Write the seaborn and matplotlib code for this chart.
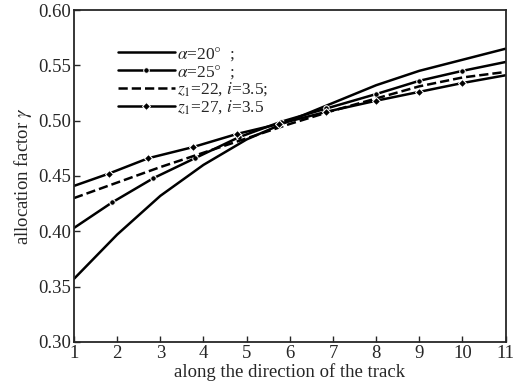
import matplotlib
matplotlib.use("Agg")
import matplotlib.pyplot as plt
import seaborn as sns
import pandas as pd

sns.set_style("ticks")
plt.rcParams['font.family'] = ['Liberation Serif', 'DejaVu Serif']
plt.rcParams['mathtext.fontset'] = 'stix'

# Data
x_a20 = [1, 2, 3, 4, 5, 6, 7, 8, 9, 10, 11]
y_a20 = [0.357, 0.397, 0.432, 0.460, 0.483, 0.500, 0.516, 0.532, 0.545, 0.555, 0.565]

x_a25 = [1, 1.88, 2.84, 3.8, 4.82, 5.8, 6.85, 8, 9, 10, 11]
y_a25 = [0.403, 0.426, 0.448, 0.466, 0.485, 0.499, 0.511, 0.524, 0.536, 0.545, 0.553]

x_z22 = [1, 2, 3, 4, 5, 6, 7, 8, 9, 10, 11]
y_z22 = [0.430, 0.444, 0.458, 0.471, 0.484, 0.497, 0.509, 0.520, 0.531, 0.539, 0.544]

x_z27 = [1, 1.8, 2.72, 3.75, 4.78, 5.75, 6.85, 8, 9, 10, 11]
y_z27 = [0.441, 0.452, 0.466, 0.476, 0.488, 0.497, 0.508, 0.518, 0.526, 0.534, 0.541]

labels = [r"$\alpha$=20$\degree$  ;", r"$\alpha$=25$\degree$  ;",
          r"$z_{\rm 1}$=22, $i$=3.5;", r"$z_{\rm 1}$=27, $i$=3.5"]
xticks = [1, 2, 3, 4, 5, 6, 7, 8, 9, 10, 11]
yticks = [0.30, 0.35, 0.40, 0.45, 0.50, 0.55, 0.60]

fig = plt.figure(figsize=(5.15, 3.85), dpi=100)
ax = fig.add_axes([0.1437, 0.112, 0.838, 0.862])

sns.lineplot(x=x_a20, y=y_a20, ax=ax, color='black', lw=1.8, label=labels[0])
sns.lineplot(x=x_a25, y=y_a25, ax=ax, color='black', lw=1.8, marker='o', ms=4,
             markevery=slice(1, -1), label=labels[1])
sns.lineplot(x=x_z22, y=y_z22, ax=ax, color='black', lw=1.8, linestyle='--',
             dashes=(3.5, 2), label=labels[2])
sns.lineplot(x=x_z27, y=y_z27, ax=ax, color='black', lw=1.8, marker='D', ms=4,
             markevery=slice(1, -1), label=labels[3])

ax.set_xlim(1, 11)
ax.set_ylim(0.30, 0.60)
ax.set_xticks(xticks)
ax.set_yticks(yticks)
ax.set_yticklabels([f"{v:.2f}" for v in yticks])
ax.tick_params(direction='in', length=4, width=1, labelsize=13.5, pad=2)
ax.set_xlabel("along the direction of the track", fontsize=13.5, labelpad=1)
ax.set_ylabel(r"allocation factor $\gamma$", fontsize=13.5, labelpad=3)
for s in ax.spines.values():
    s.set_linewidth(1.3)
    s.set_visible(True)

ax.legend(loc='upper left', bbox_to_anchor=(0.085, 0.915), frameon=False,
          fontsize=12.5, handlelength=3.3, handletextpad=0.1, labelspacing=0.0,
          borderaxespad=0)

fig.savefig("out.png", dpi=100)
